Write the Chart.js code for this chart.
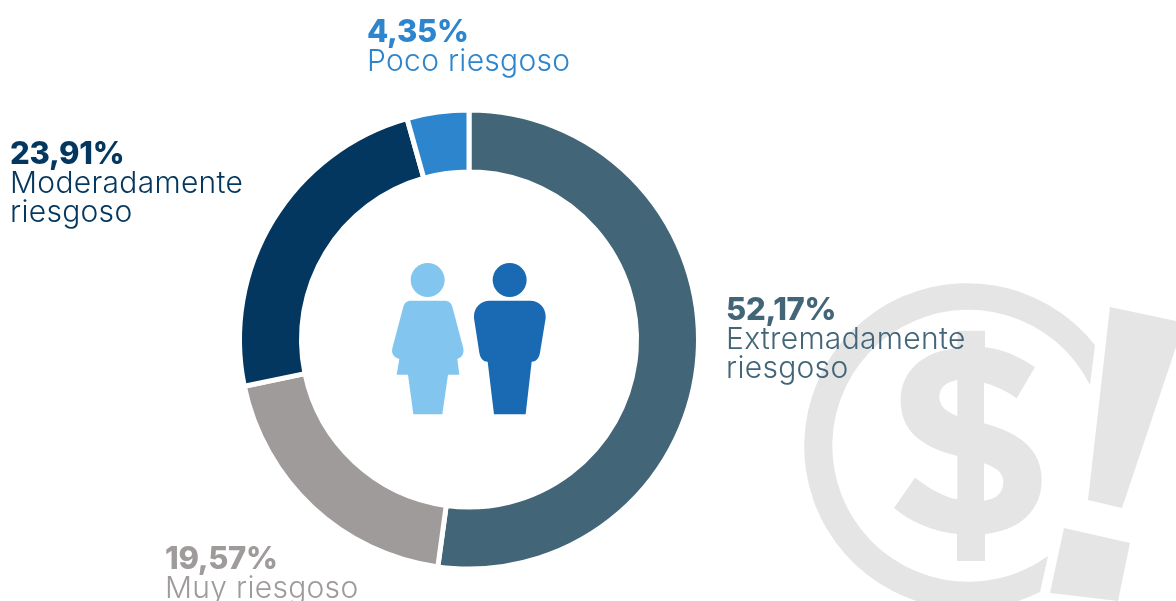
<!DOCTYPE html>
<html lang="es">
<head>
  <meta charset="UTF-8">
  <title>Nivel de riesgo</title>
  <script src="https://cdn.jsdelivr.net/npm/chart.js"></script>
  <style>
    html, body { margin: 0; padding: 0; background: #fff; overflow: hidden; }
    #stage { position: relative; width: 1176px; height: 601px; overflow: hidden; font-family: Inter, sans-serif; }
    #stage svg, #stage canvas { position: absolute; left: 0; top: 0; }
    .lbl { position: absolute; white-space: nowrap; font-size: 30px; line-height: 28.5px; font-weight: 300; letter-spacing: 0.3px; }
    .lbl b { display: block; font-size: 31px; line-height: 30px; font-weight: 800; letter-spacing: -0.3px; }
  </style>
</head>
<body>
  <div id="stage">
    <!-- watermark behind the chart, traced in 3x zoom coordinates -->
    <svg width="1176" height="601" viewBox="0 0 1176 601">
      <g fill="#e5e5e5">
        <path d="M1095 345 A163 163 0 1 0 1040 592 L1048 556 A136 136 0 1 1 1090 385 Z"/>
        <polygon points="1110,307 1176,321 1176,347 1122,508 1088,500"/>
        <polygon points="1064,528 1130,543 1118,601 1050,593"/>
        <path transform="translate(800 270) scale(0.3333)" fill-rule="evenodd"
          d="M472 182 L555 182 L555 232 C610 238 660 260 705 292 L650 385 C618 362 585 346 552 338 L552 460
             C670 492 725 545 725 630 C725 720 660 782 555 792 L555 873 L471 873 L471 792
             C400 785 335 758 282 714 L345 623 C390 657 430 680 472 688 L472 558
             C355 528 302 478 302 390 C302 305 370 242 472 235 Z
             M472 330 C438 336 418 354 418 380 C418 406 436 424 472 438 Z
             M552 580 L552 692 C590 688 610 668 610 637 C610 610 592 594 552 580 Z"/>
      </g>
      <!-- people icons in the middle of the ring -->
      <g transform="translate(380 250) scale(0.3333)">
        <g fill="#82c6f0">
          <circle cx="143" cy="90" r="51"/>
          <path d="M92 152 L195 152 C206 152 214 159 217 170 L250 295 C253 312 245 323 232 327 L238 374 L204 374
                   L187 493 L100 493 L84 374 L50 374 L58 327 C43 323 33 312 37 295 L70 170 C73 159 81 152 92 152 Z"/>
        </g>
        <g fill="#1a6ab3">
          <circle cx="389" cy="90" r="51"/>
          <path d="M330 152 L450 152 C480 152 499 175 497 205 L480 308 C477 326 467 335 455 335 L437 493 L342 493
                   L323 335 C311 335 301 326 298 308 L282 205 C280 175 299 152 330 152 Z"/>
        </g>
      </g>
    </svg>
    <canvas id="ring" width="1176" height="601"></canvas>
  </div>

  <script>
    const categories = ['Extremadamente\nriesgoso', 'Muy riesgoso', 'Moderadamente\nriesgoso', 'Poco riesgoso'];
    const values = [52.17, 19.57, 23.91, 4.35];
    const colors = ['#426578', '#9f9b9a', '#03375f', '#2d85cd'];
    // left, top of each text block
    const labelSpots = [[726, 294], [165, 543], [10, 138], [367, 16]];

    const ctx = document.getElementById('ring').getContext('2d');
    new Chart(ctx, {
      type: 'doughnut',
      data: {
        labels: categories.map(c => c.replace('\n', ' ')),
        datasets: [{
          data: values,
          backgroundColor: colors,
          borderColor: '#ffffff',
          borderWidth: 5,
          hoverOffset: 0
        }]
      },
      options: {
        responsive: false,
        animation: false,
        radius: 229.5,
        cutout: '73%',
        layout: { padding: { left: 207.5, right: 445.5, top: 78, bottom: 0 } },
        plugins: { legend: { display: false }, tooltip: { enabled: false } }
      }
    });

    const stage = document.getElementById('stage');
    categories.forEach((cat, i) => {
      const div = document.createElement('div');
      div.className = 'lbl';
      div.style.left = labelSpots[i][0] + 'px';
      div.style.top = labelSpots[i][1] + 'px';
      div.style.color = colors[i];
      div.innerHTML = '<b>' + values[i].toFixed(2).replace('.', ',') + '%</b>' + cat.replace('\n', '<br>');
      stage.appendChild(div);
    });
  </script>
</body>
</html>
